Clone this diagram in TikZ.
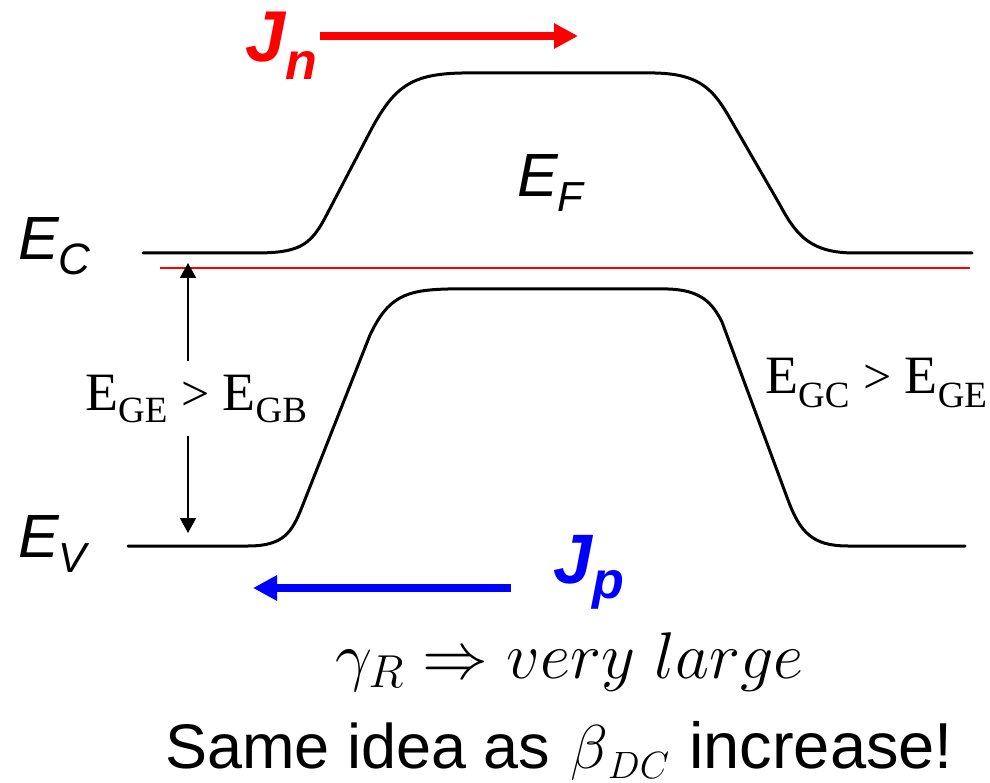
\RequirePackage{fix-cm}
\documentclass[tikz,border=0pt]{standalone}
\usepackage{fontspec}
\setsansfont{Liberation Sans}
\newfontfamily\tnr{Liberation Serif}
\usetikzlibrary{arrows.meta}
\newcommand\fs[1]{\fontsize{#1}{#1}\selectfont}
\definecolor{pred}{RGB}{255,0,0}
\definecolor{pblue}{RGB}{0,0,255}
\begin{document}
\begin{tikzpicture}[x=1pt,y=-1pt,
  band/.style={line width=3pt, line join=round, line cap=round},
  lbl/.style={inner sep=0pt, anchor=base west},
  bandlbl/.style={lbl, font=\sffamily\itshape\fs{61}},
  curr/.style={line width=8pt, -{Triangle[length=24pt,width=24pt]}},
  gaplbl/.style={lbl, font=\tnr\fs{54}},
  gap/.style={line width=1.8pt, {Triangle[length=15pt,width=16pt]}-{Triangle[length=15pt,width=16pt]}}]
\useasboundingbox (0,0) rectangle (990,783);
% conduction band
\draw[band] (143,253) -- (255,253) .. controls (298,253) and (310,246) .. (325,218)
  -- (372,128) .. controls (395,86) and (412,74) .. (462,73) -- (655,73)
  .. controls (698,74) and (712,88) .. (728,115) -- (780,205)
  .. controls (797,237) and (812,253) .. (855,253) -- (972,253);
% valence band
\draw[band] (128,546) -- (248,546) .. controls (284,546) and (292,532) .. (302,507)
  -- (370,335) .. controls (388,297) and (405,290) .. (448,289) -- (668,289)
  .. controls (700,290) and (712,302) .. (722,322) -- (788,500)
  .. controls (800,532) and (812,546) .. (848,546) -- (965,546);
% Fermi level
\coordinate (ef1) at (160,268);
\coordinate (ef2) at (970,268);
\draw[pred, line width=2pt] (ef1) -- (ef2);
% band labels
\node[bandlbl] (ec) at (18,260) {E\raisebox{-15pt}{\fs{44}C}};
\node[bandlbl] (ev) at (18,557) {E\raisebox{-15pt}{\fs{42}V}};
\node[bandlbl] (ef) at (517,197) {E\raisebox{-15pt}{\fs{42}F}};
% gap arrow
\coordinate (ga) at (188,263);
\coordinate (gb) at (188,533);
\draw[gap] (ga) -- (gb);
\node[gaplbl, fill=white, inner ysep=14pt] (ge) at (85,410) {E\raisebox{-12pt}{\fs{37}GE} {\fs{50}>} E\raisebox{-12pt}{\fs{37}GB}};
\node[gaplbl] (gc) at (765,393) {E\raisebox{-14pt}{\fs{37}GC} {\fs{50}>} E\raisebox{-14pt}{\fs{37}GE}};
% currents
\node[lbl, pred, font=\sffamily\bfseries\itshape\fs{72}] (jn) at (245,62) {J\raisebox{-18pt}{\fs{52}n}};
\coordinate (jn1) at (320,36);
\coordinate (jn2) at (578,36);
\draw[curr, pred] (jn1) -- (jn2);
\node[lbl, pblue, font=\sffamily\bfseries\itshape\fs{70}] (jp) at (553,583) {J\raisebox{-15pt}{\fs{52}p}};
\coordinate (jp1) at (511,588);
\coordinate (jp2) at (253,588);
\draw[curr, pblue] (jp1) -- (jp2);
% bottom texts
\node[lbl] (gam) at (335,678) {\fs{66}$\gamma_R \Rightarrow very\ large$};
\node[lbl, font=\sffamily\fs{63}] (same) at (165,768) {Same idea as};
\node[lbl] (beta) at (570,768) {{\fs{62}$\beta$}\raisebox{-10pt}{\fs{38}$DC$}};
\node[lbl, font=\sffamily\fs{65}] (inc) at (689,768) {increase!};
\end{tikzpicture}
\end{document}
